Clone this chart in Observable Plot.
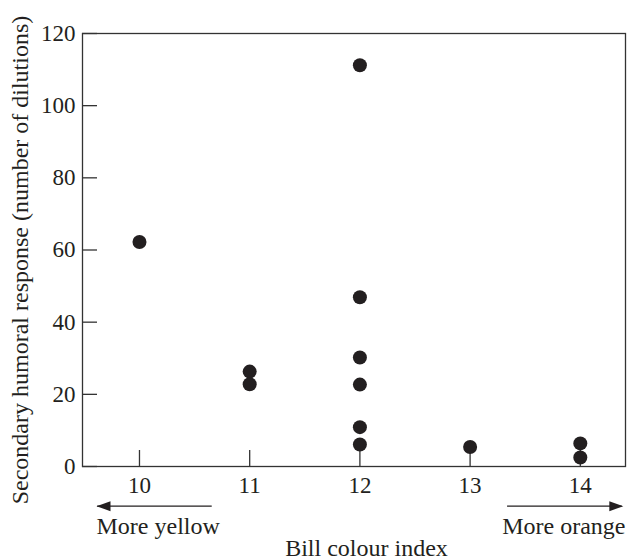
<!DOCTYPE html>
<html>
<head>
<meta charset="utf-8">
<script src="https://cdn.jsdelivr.net/npm/d3@7"></script>
<script src="https://cdn.jsdelivr.net/npm/@observablehq/plot@0.6"></script>
<style>
  html, body { margin: 0; padding: 0; background: #fff; }
</style>
</head>
<body>
<div id="chart"></div>
<script>
const xTicks = [10, 11, 12, 13, 14];
const yTicks = [0, 20, 40, 60, 80, 100, 120];
const billIndex = [10, 11, 11, 12, 12, 12, 12, 12, 12, 13, 14, 14];
const response = [62.2, 26.3, 22.8, 111.2, 46.9, 30.2, 22.7, 10.9, 6.1, 5.4, 6.4, 2.5];
const xTitle = "Bill colour index";
const yTitle = "Secondary humoral response (number of dilutions)";
const leftNote = "More yellow";
const rightNote = "More orange";

const points = billIndex.map((b, i) => ({bill: b, resp: response[i]}));

const ink = "#231f20";
const lineCol = "#333";

const headRight = { draw(ctx) { ctx.moveTo(0, 0); ctx.lineTo(-14, -5); ctx.lineTo(-14, 5); ctx.closePath(); } };
const headLeft  = { draw(ctx) { ctx.moveTo(0, 0); ctx.lineTo(14, -5); ctx.lineTo(14, 5); ctx.closePath(); } };

const W = 628, H = 560, mL = 82, mR = 3, mT = 33, mB = 94;
const innerW = W - mL - mR, innerH = H - mT - mB;
const tickFont = 23, textFont = 24;

const chart = Plot.plot({
  width: W,
  height: H,
  marginLeft: mL,
  marginRight: mR,
  marginTop: mT,
  marginBottom: mB,
  x: {domain: [9.483, 14.41]},
  y: {domain: [0, 120]},
  style: {fontFamily: "'Liberation Serif', serif", fontSize: tickFont + "px", color: ink, background: "#fff"},
  marks: [
    Plot.frame({stroke: lineCol, strokeWidth: 1.3}),
    Plot.tickX(xTicks, {x: d => d, insetTop: innerH - 16, stroke: lineCol, strokeWidth: 1.3}),
    Plot.tickY(yTicks, {y: d => d, insetRight: innerW - 15, stroke: lineCol, strokeWidth: 1.3}),
    Plot.axisX(xTicks, {tickSize: 0, tickPadding: 9.7, fontSize: tickFont, label: null, fill: ink}),
    Plot.axisY(yTicks, {tickSize: 0, tickPadding: 7, fontSize: tickFont, label: null, fill: ink}),
    Plot.dot(points, {x: "bill", y: "resp", r: 7, fill: ink, stroke: "none"}),
    // direction arrows
    Plot.ruleY([-11], {x1: 9.62, x2: 10.66, stroke: ink, strokeWidth: 1.3}),
    Plot.ruleY([-11], {x1: 13.34, x2: 14.38, stroke: ink, strokeWidth: 1.3}),
    Plot.dot([0], {x: 9.61, y: -11, symbol: headLeft, fill: ink, stroke: "none"}),
    Plot.dot([0], {x: 14.39, y: -11, symbol: headRight, fill: ink, stroke: "none"}),
    Plot.text([leftNote], {x: 9.61, y: -18.7, text: d => d, textAnchor: "start", lineAnchor: "bottom", fontSize: textFont, fill: ink}),
    Plot.text([rightNote], {x: 14.41, y: -18.7, text: d => d, textAnchor: "end", lineAnchor: "bottom", fontSize: textFont, fill: ink}),
    Plot.text([xTitle], {x: 12.06, y: -24.9, text: d => d, textAnchor: "middle", lineAnchor: "bottom", fontSize: textFont, fill: ink}),
    Plot.text([yTitle], {frameAnchor: "left", dx: -55, dy: 10, rotate: -90, text: d => d, textAnchor: "middle", lineAnchor: "bottom", fontSize: textFont, fill: ink})
  ]
});

document.getElementById("chart").appendChild(chart);
</script>
</body>
</html>
